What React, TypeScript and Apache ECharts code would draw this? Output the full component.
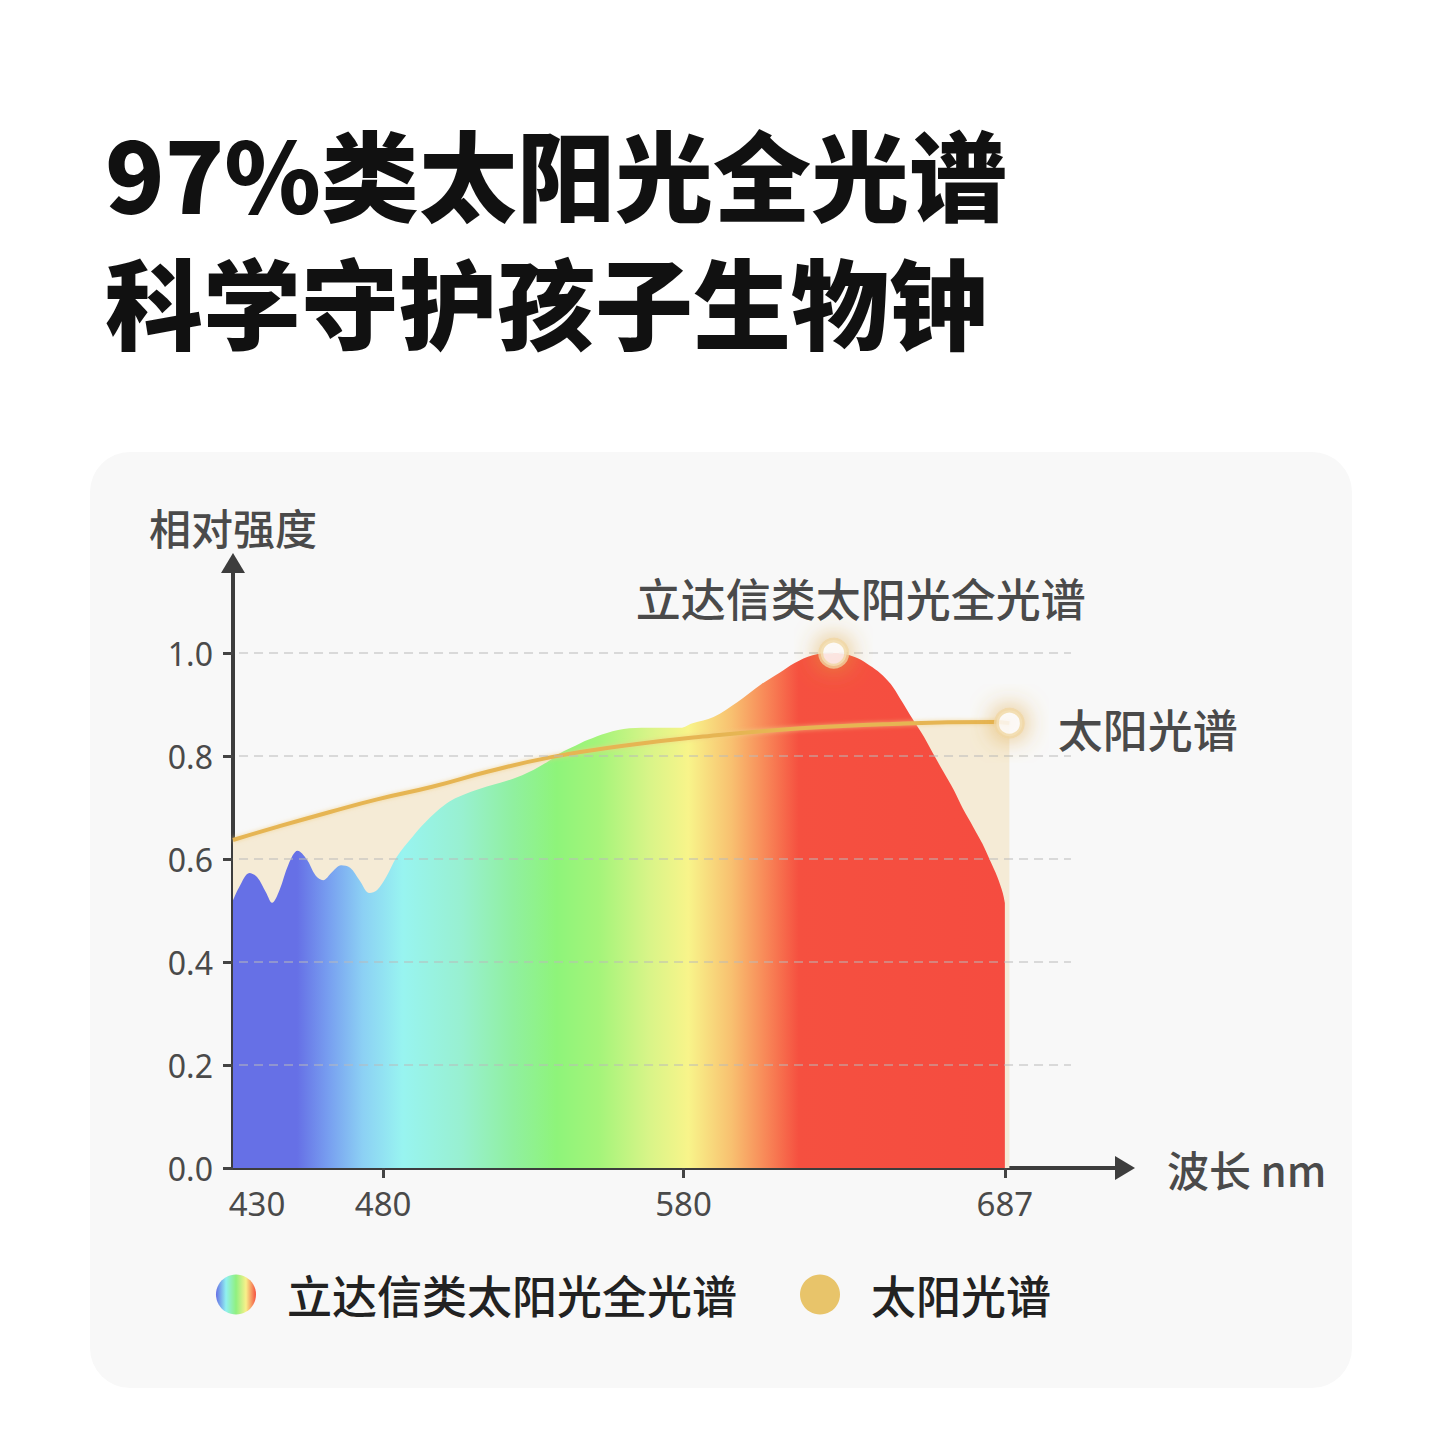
import { useEffect, useRef } from "react";
import * as echarts from "echarts";

const TITLE_LINES = ["97%类太阳光全光谱", "科学守护孩子生物钟"];
const LED_NAME = "立达信类太阳光全光谱";
const SUN_NAME = "太阳光谱";
const Y_NAME = "相对强度";
const X_NAME = "波长 nm";

// LED spectrum (wavelength nm / relative intensity)
const ledNm = [
  430, 432, 435.5, 438, 441, 443, 445.5, 448.5, 451.5, 454.5, 457.5, 460, 463, 466, 469, 472, 475.5, 478, 481,
  484.5, 490, 495.5, 500, 504, 508, 513, 519, 525, 530, 535, 539, 544, 548, 554.5, 562, 570, 579, 583, 590, 598,
  606, 612, 617, 623, 630, 634, 638, 642, 645.5, 649, 652, 656.5, 660, 663, 666.5, 670, 673, 676.5, 679.5, 682,
  684.5, 686.3, 687,
];
const ledValue = [
  0.52, 0.545, 0.573, 0.565, 0.535, 0.515, 0.54, 0.59, 0.616, 0.6, 0.568, 0.559, 0.575, 0.588, 0.583, 0.56, 0.534,
  0.54, 0.565, 0.604, 0.645, 0.68, 0.703, 0.718, 0.728, 0.738, 0.748, 0.76, 0.773, 0.79, 0.806, 0.82, 0.831, 0.845,
  0.854, 0.855, 0.855, 0.864, 0.876, 0.905, 0.94, 0.962, 0.981, 0.996, 1.0, 0.998, 0.99, 0.976, 0.961, 0.94, 0.913,
  0.87, 0.838, 0.806, 0.77, 0.734, 0.698, 0.662, 0.63, 0.598, 0.565, 0.534, 0.515,
];

// sunlight curve
const sunNm = [430, 445, 462, 478, 496, 515, 536, 560, 585, 619, 652, 683, 688.5];
const sunValue = [0.637, 0.663, 0.691, 0.716, 0.74, 0.77, 0.798, 0.82, 0.837, 0.854, 0.863, 0.866, 0.864];

const yTickValues = [0, 0.2, 0.4, 0.6, 0.8, 1.0];
const gridLineValues = [0.2, 0.4, 0.6, 0.8, 1.0];
const xLabelValues = [430, 480, 580, 687];
const xTickValues = [480, 580, 687];

const X_MIN = 430;
const X_MAX = 727;
const Y_MAX = 1.175;
const GRID_FROM = 432;
const GRID_TO = 709;

const spectrumStops = [
  { offset: 0, color: "#6670e6" },
  { offset: 0.083, color: "#6670e6" },
  { offset: 0.125, color: "#78a0f0" },
  { offset: 0.168, color: "#8cd0f4" },
  { offset: 0.22, color: "#98f4f0" },
  { offset: 0.297, color: "#98f0d0" },
  { offset: 0.362, color: "#90f0a0" },
  { offset: 0.419, color: "#8ef47a" },
  { offset: 0.474, color: "#a4f47a" },
  { offset: 0.539, color: "#d8f488" },
  { offset: 0.59, color: "#f8f48a" },
  { offset: 0.646, color: "#f8c070" },
  { offset: 0.69, color: "#f88858" },
  { offset: 0.733, color: "#f55040" },
  { offset: 1, color: "#f54c40" },
];

const legendStops = [
  { offset: 0, color: "#6670e6" },
  { offset: 0.25, color: "#90f0f0" },
  { offset: 0.5, color: "#90f080" },
  { offset: 0.75, color: "#f8f08a" },
  { offset: 1, color: "#f55040" },
];

export default function App() {
  const chartRef = useRef<HTMLDivElement | null>(null);

  useEffect(() => {
    if (!chartRef.current) {
      return;
    }

    const chart = echarts.init(chartRef.current, null, { renderer: "svg" });

    const ledData = ledNm.map((nm, i) => [nm, ledValue[i]]);
    const sunData = sunNm.map((nm, i) => [nm, sunValue[i]]);
    const peakIndex = ledValue.indexOf(Math.max(...ledValue));
    const sunEnd = sunData[sunData.length - 1];

    const spectrum = new echarts.graphic.LinearGradient(0, 0, 1, 0, spectrumStops);
    const legendRainbow = new echarts.graphic.LinearGradient(0, 0, 1, 0, legendStops);
    const sunColor = "#e8c46a";

    const textFont = "'Noto Sans CJK SC', 'Noto Sans', sans-serif";
    const numberFont = "'Noto Sans', sans-serif";

    const titleStyle = {
      fontFamily: textFont,
      fontSize: 98,
      fontWeight: 900,
      color: "#111111",
      lineHeight: 100,
    };

    chart.setOption({
      animation: false,
      backgroundColor: "#ffffff",
      textStyle: { fontFamily: textFont },
      graphic: [
        {
          type: "rect",
          z: -10,
          silent: true,
          shape: { x: 90, y: 452, width: 1262, height: 936, r: 40 },
          style: { fill: "#f8f8f8" },
        },
      ],
      title: [
        { text: TITLE_LINES[0], left: 105, top: 121, padding: 0, textStyle: titleStyle },
        { text: TITLE_LINES[1], left: 105, top: 249, padding: 0, textStyle: titleStyle },
      ],
      legend: {
        data: [
          { name: LED_NAME, itemStyle: { color: legendRainbow } },
          { name: SUN_NAME, itemStyle: { color: sunColor } },
        ],
        left: 211,
        top: 1267,
        icon: "circle",
        itemWidth: 40,
        itemHeight: 40,
        itemGap: 63,
        itemStyle: { borderWidth: 0 },
        textStyle: {
          fontFamily: textFont,
          fontSize: 45,
          fontWeight: 500,
          color: "#222222",
          padding: [0, 0, 0, 26],
        },
      },
      grid: {
        left: 233,
        right: 1440 - 1125,
        top: 563,
        bottom: 1440 - 1168,
      },
      xAxis: {
        type: "value",
        min: X_MIN,
        max: X_MAX,
        name: X_NAME,
        nameLocation: "end",
        nameGap: 42,
        nameTextStyle: { fontSize: 42, color: "#4a4a4a", fontFamily: textFont, fontWeight: 500 },
        axisLine: {
          show: true,
          symbol: ["none", "triangle"],
          symbolSize: [24, 20],
          lineStyle: { color: "#3d3d3d", width: 4 },
        },
        axisTick: {
          show: true,
          customValues: xTickValues,
          length: 10,
          lineStyle: { color: "#444444", width: 3 },
        },
        axisLabel: {
          customValues: xLabelValues,
          margin: 19,
          fontFamily: numberFont,
          fontSize: 33,
          color: "#4a4a4a",
          formatter: (value: number) => (value === X_MIN ? `{first|${value}}` : `${value}`),
          rich: {
            first: { fontFamily: numberFont, fontSize: 33, color: "#4a4a4a", padding: [0, 0, 0, 48] },
          },
        },
        splitLine: { show: false },
      },
      yAxis: {
        type: "value",
        min: 0,
        max: Y_MAX,
        name: Y_NAME,
        nameLocation: "end",
        nameGap: 16,
        nameTextStyle: { fontSize: 42, color: "#4a4a4a", fontFamily: textFont, fontWeight: 500 },
        axisLine: {
          show: true,
          symbol: ["none", "triangle"],
          symbolSize: [24, 20],
          lineStyle: { color: "#3d3d3d", width: 4 },
        },
        axisTick: {
          show: true,
          customValues: yTickValues,
          length: 10,
          lineStyle: { color: "#444444", width: 3 },
        },
        axisLabel: {
          customValues: yTickValues,
          margin: 20,
          fontFamily: numberFont,
          fontSize: 32,
          color: "#4a4a4a",
          formatter: (value: number) => value.toFixed(1),
        },
        splitLine: { show: false },
      },
      series: [
        {
          name: SUN_NAME,
          type: "line",
          data: sunData,
          smooth: 0.5,
          showSymbol: false,
          silent: true,
          color: sunColor,
          lineStyle: { width: 0, color: sunColor },
          areaStyle: { color: "#f5ebd6", opacity: 1 },
          z: 2,
        },
        {
          name: LED_NAME,
          type: "line",
          data: ledData,
          smooth: 0.35,
          showSymbol: false,
          silent: true,
          lineStyle: { width: 0 },
          areaStyle: { color: spectrum, opacity: 1 },
          z: 3,
        },
        {
          name: SUN_NAME,
          type: "line",
          data: sunData,
          smooth: 0.5,
          showSymbol: false,
          silent: true,
          color: sunColor,
          lineStyle: {
            width: 4,
            color: "#e6b553",
            shadowBlur: 4,
            shadowColor: "rgba(240, 205, 130, 0.7)",
          },
          z: 4,
          markLine: {
            silent: true,
            symbol: ["none", "none"],
            label: { show: false },
            lineStyle: { color: "rgba(185, 185, 185, 0.5)", type: [9, 6], width: 2 },
            data: gridLineValues.map((v) => [{ coord: [GRID_FROM, v] }, { coord: [GRID_TO, v] }]),
          },
        },
        {
          type: "scatter",
          silent: true,
          z: 6,
          symbolSize: 26,
          itemStyle: {
            color: "#ffffff",
            borderColor: "rgba(240, 214, 160, 0.95)",
            borderWidth: 5,
            shadowBlur: 26,
            shadowColor: "rgba(222, 165, 60, 1)",
          },
          label: {
            show: true,
            fontFamily: textFont,
            fontSize: 45,
            fontWeight: 500,
            color: "#1a1a1a",
            formatter: (p: { name: string }) => p.name,
          },
          data: [
            {
              name: LED_NAME,
              value: ledData[peakIndex],
              label: { position: "top", distance: 18, offset: [27, 0] },
            },
            {
              name: SUN_NAME,
              value: sunEnd,
              label: { position: "right", distance: 33, offset: [0, 5] },
            },
          ],
        },
      ],
    });

    const resize = () => chart.resize();
    window.addEventListener("resize", resize);

    return () => {
      window.removeEventListener("resize", resize);
      chart.dispose();
    };
  }, []);

  return (
    <div
      ref={chartRef}
      style={{ position: "fixed", left: 0, top: 0, width: 1440, height: 1440, background: "#ffffff" }}
      aria-label="光谱对比图"
    />
  );
}
